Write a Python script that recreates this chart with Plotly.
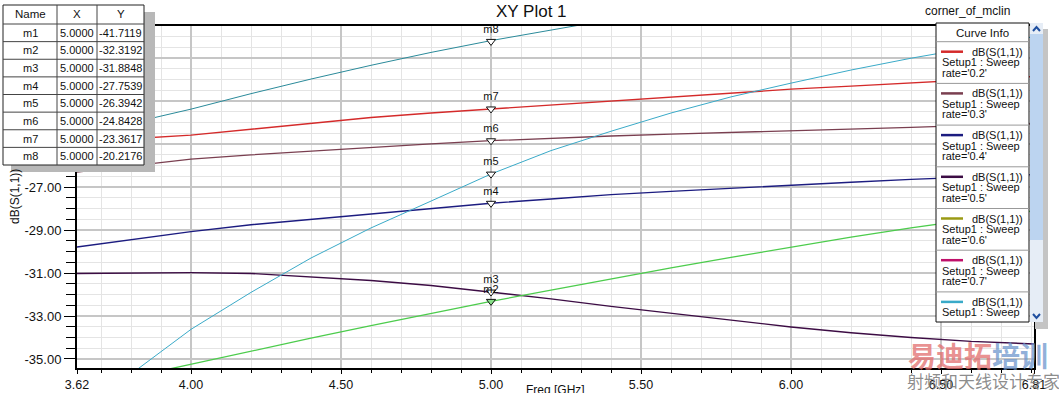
import plotly.graph_objects as go

# ---------------- data ----------------
freq = [3.62, 3.8, 4.0, 4.2, 4.4, 4.6, 4.8, 5.0, 5.2, 5.4, 5.6, 5.8, 6.0, 6.2, 6.4, 6.6, 6.81]

db_rate02 = [-24.85, -24.75, -24.58, -24.30, -24.02, -23.76, -23.55, -23.36, -23.17, -22.98,
             -22.80, -22.62, -22.44, -22.30, -22.15, -22.00, -21.85]
db_rate03 = [-26.30, -26.00, -25.70, -25.50, -25.32, -25.15, -24.99, -24.84, -24.72, -24.62,
             -24.53, -24.46, -24.38, -24.30, -24.22, -24.13, -24.05]
db_rate04 = [-29.79, -29.45, -29.07, -28.75, -28.50, -28.25, -28.00, -27.75, -27.55, -27.35,
             -27.20, -27.05, -26.90, -26.77, -26.64, -26.53, -26.42]
db_rate05 = [-31.02, -31.00, -30.98, -31.02, -31.18, -31.35, -31.58, -31.88, -32.20, -32.55,
             -32.88, -33.20, -33.51, -33.78, -34.00, -34.18, -34.30]
db_rate08 = [-37.90, -35.70, -33.62, -31.90, -30.30, -28.90, -27.65, -26.39, -25.30, -24.40,
             -23.55, -22.80, -22.16, -21.55, -21.00, -20.50, -20.00]
db_rate09 = [-24.60, -24.02, -23.37, -22.65, -21.97, -21.33, -20.73, -20.18, -19.67, -19.20,
             -18.77, -18.37, -18.00, -17.65, -17.32, -17.00, -16.70]
db_rate10 = [-36.40, -35.85, -35.23, -34.62, -34.03, -33.45, -32.88, -32.32, -31.79, -31.27,
             -30.76, -30.27, -29.79, -29.33, -28.90, -28.50, -28.10]

curve_series = [db_rate02, db_rate03, db_rate04, db_rate05, db_rate08, db_rate09, db_rate10]
curve_names = ["rate='0.2'", "rate='0.3'", "rate='0.4'", "rate='0.5'",
               "rate='0.8'", "rate='0.9'", "rate='1.0'"]
curve_colors = ["#d42a2a", "#7a3f50", "#1c1c80", "#3c0c44", "#3aaac8", "#2a8a9a", "#4ccc4c"]
curve_widths = [1.4, 1.3, 1.4, 1.4, 1.0, 1.0, 1.3]

marker_names = ["m1", "m2", "m3", "m4", "m5", "m6", "m7", "m8"]
marker_x = [5.0, 5.0, 5.0, 5.0, 5.0, 5.0, 5.0, 5.0]
marker_y = [-41.7119, -32.3192, -31.8848, -27.7539, -26.3942, -24.8428, -23.3617, -20.2176]
marker_fill = ["white", "#88e088", "white", "white", "white", "white", "white", "white"]

x_tickvals = [3.62, 4.0, 4.5, 5.0, 5.5, 6.0, 6.5, 6.81]
x_ticktext = ["3.62", "4.00", "4.50", "5.00", "5.50", "6.00", "6.50", "6.81"]
y_tickvals = [-35, -33, -31, -29, -27, -25, -23, -21]
y_ticktext = ["-35.00", "-33.00", "-31.00", "-29.00", "-27.00", "-25.00", "-23.00", "-21.00"]

legend_rates = ["rate='0.2'", "rate='0.3'", "rate='0.4'", "rate='0.5'",
                "rate='0.6'", "rate='0.7'", "rate='0.8'"]
legend_colors = ["#d42a2a", "#7a3f50", "#1c1c80", "#3c0c44", "#9a9a14", "#c0106a", "#3aaac8"]

# ---------------- geometry helpers ----------------
W, H = 1059, 393
ML, MR, MT, MB = 77, 25, 26, 25
PW, PH = W - ML - MR, H - MT - MB


def px(xp):
    return (xp - ML) / PW


def py(yp):
    return (H - MB - yp) / PH


FONT = "Liberation Sans, Arial, sans-serif"

fig = go.Figure()

for ys, nm, col, lw in zip(curve_series, curve_names, curve_colors, curve_widths):
    fig.add_trace(go.Scatter(x=freq, y=ys, mode="lines", name=nm,
                             line=dict(color=col, width=lw), showlegend=False))

fig.add_trace(go.Scatter(
    x=marker_x, y=marker_y, mode="markers+text", text=marker_names,
    textposition="top center", textfont=dict(family=FONT, size=11, color="#111"),
    marker=dict(symbol="triangle-down", size=8, color=marker_fill,
                line=dict(color="#111", width=1)),
    cliponaxis=True, showlegend=False))

shapes = []
ann = []

# ---- marker table (top-left) ----
tx0, tx1, ty0, ty1 = 3, 144, 5, 165
col_edges = [3, 57, 97, 144]
header_h = 19
row_h = (ty1 - ty0 - header_h) / len(marker_names)
shapes.append(dict(type="rect", xref="paper", yref="paper", layer="above",
                   x0=px(tx0 + 8), x1=px(tx1 + 11), y0=py(ty0 + 7), y1=py(ty1 + 7),
                   fillcolor="#b8b8b8", line=dict(width=0)))
shapes.append(dict(type="rect", xref="paper", yref="paper", layer="above",
                   x0=px(tx0), x1=px(tx1), y0=py(ty0), y1=py(ty1),
                   fillcolor="white", line=dict(color="#222", width=1)))
for ce in col_edges[1:-1]:
    shapes.append(dict(type="line", xref="paper", yref="paper", layer="above",
                       x0=px(ce), x1=px(ce), y0=py(ty0), y1=py(ty1),
                       line=dict(color="#444", width=1)))
row_tops = [ty0 + header_h + i * row_h for i in range(len(marker_names))]
shapes.append(dict(type="line", xref="paper", yref="paper", layer="above",
                   x0=px(tx0), x1=px(tx1), y0=py(ty0 + header_h), y1=py(ty0 + header_h),
                   line=dict(color="#444", width=1)))
for rt in row_tops[1:]:
    shapes.append(dict(type="line", xref="paper", yref="paper", layer="above",
                       x0=px(tx0), x1=px(tx1), y0=py(rt), y1=py(rt),
                       line=dict(color="#444", width=1)))
cell_cx = [(col_edges[i] + col_edges[i + 1]) / 2 for i in range(3)]
for cx, htxt in zip(cell_cx, ["Name", "X", "Y"]):
    ann.append(dict(x=px(cx), y=py(ty0 + header_h / 2), xref="paper", yref="paper",
                    text=htxt, showarrow=False, xanchor="center", yanchor="middle",
                    font=dict(family=FONT, size=11.5, color="#111")))
for rt, nm, xv, yv in zip(row_tops, marker_names, marker_x, marker_y):
    for cx, t in zip(cell_cx, [nm, f"{xv:.4f}", f"{yv:.4f}"]):
        ann.append(dict(x=px(cx), y=py(rt + row_h / 2), xref="paper", yref="paper",
                        text=t, showarrow=False, xanchor="center", yanchor="middle",
                        font=dict(family=FONT, size=11, color="#111")))

# ---- Curve Info legend (right) ----
lx0, lx1, ly0, ly1 = 936, 1029, 23, 322
lhead = 18.7
lrow = 41.7
shapes.append(dict(type="rect", xref="paper", yref="paper", layer="above",
                   x0=px(lx1 + 6), x1=px(lx1 + 19), y0=py(ly0 + 6), y1=py(ly1 + 7),
                   fillcolor="#c4c4c4", line=dict(width=0)))
shapes.append(dict(type="rect", xref="paper", yref="paper", layer="above",
                   x0=px(lx0), x1=px(lx1), y0=py(ly0), y1=py(ly1),
                   fillcolor="white", line=dict(color="#111", width=1)))
# scrollbar
shapes.append(dict(type="rect", xref="paper", yref="paper", layer="above",
                   x0=px(lx1 + 1), x1=px(lx1 + 14), y0=py(ly0), y1=py(ly1),
                   fillcolor="#e6edf6", line=dict(width=0)))
shapes.append(dict(type="rect", xref="paper", yref="paper", layer="above",
                   x0=px(lx1 + 1), x1=px(lx1 + 14), y0=py(ly0 + 11), y1=py(240),
                   fillcolor="#bcd4f0", line=dict(width=0)))
for (ya, yb) in [(ly0 + 8, ly0 + 4), (ly1 - 8, ly1 - 4)]:
    shapes.append(dict(type="path", xref="paper", yref="paper", layer="above",
                       path=f"M {px(lx1 + 4)} {py(ya)} L {px(lx1 + 7.5)} {py(yb)} L {px(lx1 + 11)} {py(ya)}",
                       line=dict(color="#1f4f9f", width=2)))
ann.append(dict(x=px((lx0 + lx1) / 2), y=py(ly0 + lhead / 2 + 0.5), xref="paper", yref="paper",
                text="Curve Info", showarrow=False, xanchor="center", yanchor="middle",
                font=dict(family=FONT, size=11.5, color="#111")))
shapes.append(dict(type="line", xref="paper", yref="paper", layer="above",
                   x0=px(lx0), x1=px(lx1), y0=py(ly0 + lhead), y1=py(ly0 + lhead),
                   line=dict(color="#999", width=1)))
for i, (rt_txt, col) in enumerate(zip(legend_rates, legend_colors)):
    top = ly0 + lhead + i * lrow
    if top + 10 > ly1:
        break
    if i > 0:
        shapes.append(dict(type="line", xref="paper", yref="paper", layer="above",
                           x0=px(lx0), x1=px(lx1), y0=py(top), y1=py(top),
                           line=dict(color="#999", width=1)))
    shapes.append(dict(type="line", xref="paper", yref="paper", layer="above",
                       x0=px(lx0 + 5), x1=px(lx0 + 27), y0=py(top + 10), y1=py(top + 10),
                       line=dict(color=col, width=2.5)))
    lines = [("dB(S(1,1))", lx1 - 4, "right", top + 10),
             ("Setup1 : Sweep", lx0 + 4, "left", top + 20.5),
             (rt_txt, lx0 + 4, "left", top + 31)]
    for txt, xx, anc, yy in lines:
        if yy + 5 > ly1:
            continue
        ann.append(dict(x=px(xx), y=py(yy), xref="paper", yref="paper", text=txt,
                        showarrow=False, xanchor=anc, yanchor="middle",
                        font=dict(family=FONT, size=11, color="#111")))

# ---- titles ----
ann.append(dict(x=px(531), y=py(12), xref="paper", yref="paper", text="XY Plot 1",
                showarrow=False, xanchor="center", yanchor="middle",
                font=dict(family=FONT, size=17, color="#111")))
ann.append(dict(x=px(967), y=py(11), xref="paper", yref="paper", text="corner_of_mclin",
                showarrow=False, xanchor="center", yanchor="middle",
                font=dict(family=FONT, size=12, color="#111")))
ann.append(dict(x=px(15), y=py(197), xref="paper", yref="paper", text="dB(S(1,1))",
                showarrow=False, xanchor="center", yanchor="middle", textangle=-90,
                font=dict(family=FONT, size=12, color="#111")))
ann.append(dict(x=px(555), y=py(399), xref="paper", yref="paper", text="Freq [GHz]",
                showarrow=False, xanchor="center", yanchor="bottom",
                font=dict(family=FONT, size=12, color="#111")))

# ---- watermark ----
ann.append(dict(x=px(906), y=py(355), xref="paper", yref="paper",
                text="<b><span style='color:rgba(226,110,110,0.75)'>易迪拓</span>"
                     "<span style='color:rgba(110,150,205,0.75)'>培训</span></b>",
                showarrow=False, xanchor="left", yanchor="middle",
                font=dict(family="Noto Sans CJK SC", size=28)))
ann.append(dict(x=px(905), y=py(395), xref="paper", yref="paper",
                text="射频和天线设计专家", showarrow=False, xanchor="left", yanchor="bottom",
                font=dict(family="Noto Sans CJK SC", size=17, color="rgba(120,120,120,0.85)")))

fig.update_layout(
    width=W, height=H,
    margin=dict(l=ML, r=MR, t=MT, b=MB, autoexpand=False),
    paper_bgcolor="white", plot_bgcolor="white",
    showlegend=False,
    shapes=shapes, annotations=ann,
    font=dict(family=FONT, size=13, color="#111"),
)
fig.update_xaxes(
    range=[3.62, 6.81], tickmode="array", tickvals=x_tickvals, ticktext=x_ticktext,
    automargin=False,
    showline=True, linewidth=2, linecolor="black", mirror=True,
    ticks="outside", ticklen=4, tickwidth=1, tickcolor="black",
    showgrid=True, gridcolor="#c6c6c6", gridwidth=2, zeroline=False,
    tickfont=dict(family=FONT, size=12.5, color="#111"),
    minor=dict(dtick=0.1, tick0=0, showgrid=True, gridcolor="#e4e4e4", gridwidth=1,
               ticks="outside", ticklen=3, tickcolor="black"),
)
fig.update_yaxes(
    range=[-35.42, -19.5], tickmode="array", tickvals=y_tickvals, ticktext=y_ticktext,
    automargin=False,
    showline=True, linewidth=2, linecolor="black", mirror=True,
    ticks="outside", ticklen=11, tickwidth=1, tickcolor="black",
    showgrid=True, gridcolor="#c6c6c6", gridwidth=2, zeroline=False,
    tickfont=dict(family=FONT, size=13, color="#111"),
    minor=dict(dtick=0.5, tick0=0, showgrid=True, gridcolor="#e4e4e4", gridwidth=1,
               ticks="outside", ticklen=9, tickcolor="black"),
)

fig.write_html(
    "out.html",
    config={"displayModeBar": False},
    post_script="document.body.style.margin='0px';document.body.style.padding='0px';"
                "document.documentElement.style.overflow='hidden';",
)
